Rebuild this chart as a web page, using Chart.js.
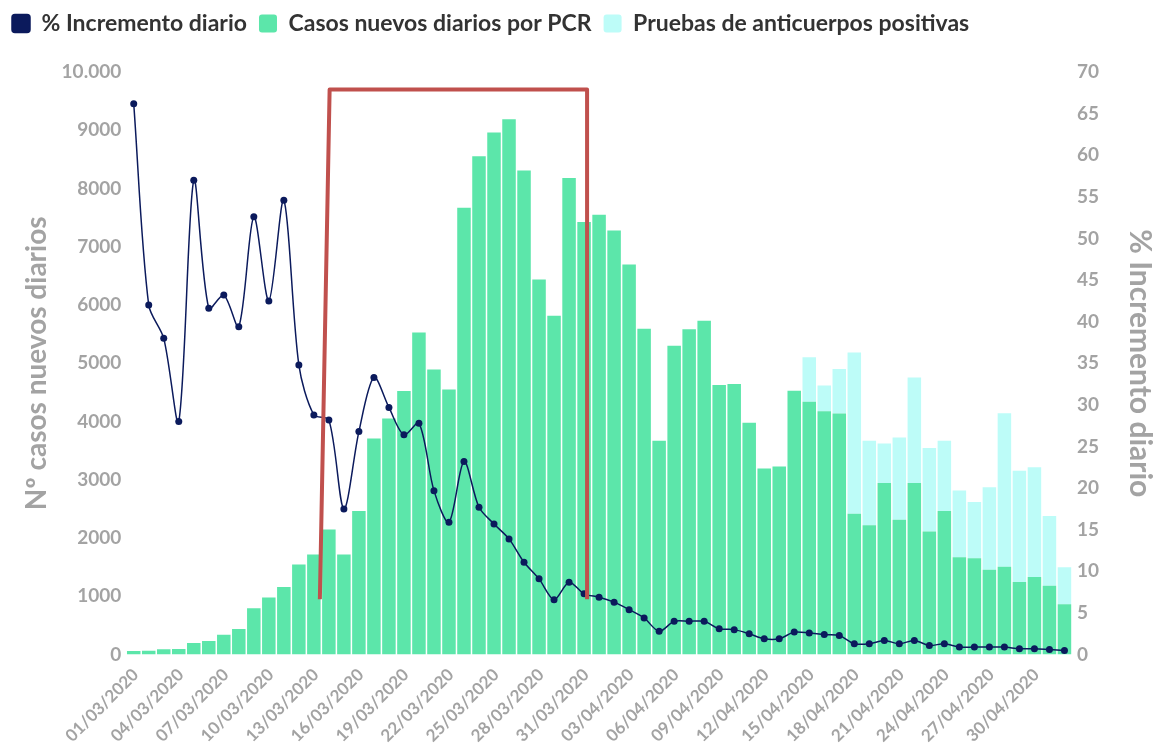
<!DOCTYPE html>
<html>
<head>
<meta charset="utf-8">
<script src="https://cdn.jsdelivr.net/npm/chart.js@4.4.1/dist/chart.umd.min.js"></script>
<style>
  html, body { margin: 0; padding: 0; background: #fff; }
  #wrap { width: 1159px; height: 754px; }
</style>
</head>
<body>
<div id="wrap"><canvas id="casosChart"></canvas></div>
<script>
const fechas = [
  "01/03/2020", "02/03/2020", "03/03/2020", "04/03/2020", "05/03/2020", "06/03/2020", "07/03/2020",
  "08/03/2020", "09/03/2020", "10/03/2020", "11/03/2020", "12/03/2020", "13/03/2020", "14/03/2020",
  "15/03/2020", "16/03/2020", "17/03/2020", "18/03/2020", "19/03/2020", "20/03/2020", "21/03/2020",
  "22/03/2020", "23/03/2020", "24/03/2020", "25/03/2020", "26/03/2020", "27/03/2020", "28/03/2020",
  "29/03/2020", "30/03/2020", "31/03/2020", "01/04/2020", "02/04/2020", "03/04/2020", "04/04/2020",
  "05/04/2020", "06/04/2020", "07/04/2020", "08/04/2020", "09/04/2020", "10/04/2020", "11/04/2020",
  "12/04/2020", "13/04/2020", "14/04/2020", "15/04/2020", "16/04/2020", "17/04/2020", "18/04/2020",
  "19/04/2020", "20/04/2020", "21/04/2020", "22/04/2020", "23/04/2020", "24/04/2020", "25/04/2020",
  "26/04/2020", "27/04/2020", "28/04/2020", "29/04/2020", "30/04/2020", "01/05/2020", "02/05/2020"
];

// Casos nuevos diarios por PCR
const casosPCR = [
  60, 65, 90, 95, 200, 235, 340, 440, 795, 980,
  1160, 1546, 1718, 2149, 1718, 2464, 3709, 4053, 4524, 5530,
  4895, 4552, 7669, 8554, 8961, 9190, 8308, 6439, 5814, 8182,
  7425, 7548, 7278, 6695, 5594, 3670, 5303, 5584, 5731, 4629,
  4645, 3980, 3194, 3228, 4530, 4340, 4175, 4140, 2418, 2218,
  2947, 2316, 2947, 2115, 2465, 1672, 1655, 1458, 1506, 1244,
  1330, 1181, 864
];

// Pruebas de anticuerpos positivas (apiladas sobre PCR)
const anticuerposPositivos = [
  0, 0, 0, 0, 0, 0, 0, 0, 0, 0,
  0, 0, 0, 0, 0, 0, 0, 0, 0, 0,
  0, 0, 0, 0, 0, 0, 0, 0, 0, 0,
  0, 0, 0, 0, 0, 0, 0, 0, 0, 0,
  0, 0, 0, 0, 0, 764, 442, 764, 2766, 1452,
  677, 1412, 1808, 1429, 1205, 1143, 965, 1414, 2635, 1913,
  1884, 1197, 636
];

// % Incremento diario
const incrementoDiario = [
  66.2, 42.0, 38.0, 28.0, 57.0, 41.6, 43.2, 39.4, 52.6, 42.5,
  54.6, 34.8, 28.8, 28.2, 17.5, 26.8, 33.3, 29.7, 26.4, 27.8,
  19.7, 15.9, 23.2, 17.7, 15.7, 13.9, 11.1, 9.1, 6.6, 8.7,
  7.3, 6.9, 6.3, 5.4, 4.4, 2.8, 4.0, 4.0, 4.0, 3.1,
  3.0, 2.5, 1.9, 1.9, 2.7, 2.6, 2.4, 2.3, 1.3, 1.3,
  1.7, 1.3, 1.7, 1.1, 1.3, 0.9, 0.9, 0.9, 0.9, 0.7,
  0.7, 0.6, 0.5
];

const GRIS = "#a3a3a3";

// Spanish style: only numbers of 5+ digits get a thousands dot
function formatCasos(v) {
  return v >= 10000 ? String(v).replace(/\B(?=(\d{3})+(?!\d))/g, ".") : String(v);
}

// red bracket marking 14/03 - 31/03 (x in category index, y in cases)
const marco = { xIzqAbajo: 12.4, xIzqArriba: 13.05, xDer: 30.2, yAbajo: 950, yArriba: 9700 };

const marcoPlugin = {
  id: "marco",
  afterDatasetsDraw(chart) {
    const { ctx, scales } = chart;
    const x = scales.x, y = scales.y;
    ctx.save();
    ctx.strokeStyle = "#c0504d";
    ctx.lineWidth = 4;
    ctx.lineJoin = "round";
    ctx.beginPath();
    ctx.moveTo(x.getPixelForValue(marco.xIzqAbajo), y.getPixelForValue(marco.yAbajo));
    ctx.lineTo(x.getPixelForValue(marco.xIzqArriba), y.getPixelForValue(marco.yArriba));
    ctx.lineTo(x.getPixelForValue(marco.xDer), y.getPixelForValue(marco.yArriba));
    ctx.lineTo(x.getPixelForValue(marco.xDer), y.getPixelForValue(marco.yAbajo));
    ctx.stroke();
    ctx.restore();
  },
};

// extra room under the legend
const legendGap = {
  id: "legendGap",
  beforeInit(chart) {
    const fitOrig = chart.legend.fit;
    chart.legend.fit = function () {
      fitOrig.bind(chart.legend)();
      this.height += 27;
    };
  },
};

Chart.defaults.font.family = "Lato, 'Open Sans', sans-serif";
Chart.defaults.font.weight = "bold";

new Chart(document.getElementById("casosChart"), {
  type: "bar",
  data: {
    labels: fechas,
    datasets: [
      {
        type: "line",
        label: "% Incremento diario",
        data: incrementoDiario,
        yAxisID: "y1",
        borderColor: "#0b1a5c",
        backgroundColor: "#0b1a5c",
        borderWidth: 1.5,
        pointRadius: 3.5,
        pointBackgroundColor: "#0b1a5c",
        pointBorderWidth: 0,
        tension: 0.3,
        order: 0,
      },
      {
        label: "Casos nuevos diarios por PCR",
        data: casosPCR,
        yAxisID: "y",
        backgroundColor: "#5ce6aa",
        categoryPercentage: 1,
        barPercentage: 0.9,
        order: 1,
      },
      {
        label: "Pruebas de anticuerpos positivas",
        data: anticuerposPositivos,
        yAxisID: "y",
        backgroundColor: "#bdfcf8",
        categoryPercentage: 1,
        barPercentage: 0.9,
        order: 2,
      },
    ],
  },
  options: {
    responsive: true,
    maintainAspectRatio: false,
    animation: false,
    layout: { padding: { top: 0, left: 0, right: 0, bottom: 6 } },
    plugins: {
      legend: {
        position: "top",
        align: "start",
        labels: {
          color: "#333",
          font: { size: 23, weight: "bold" },
          boxWidth: 18,
          boxHeight: 18,
          useBorderRadius: true,
          borderRadius: 3,
          padding: 12,
        },
      },
      tooltip: { enabled: false },
    },
    scales: {
      x: {
        stacked: true,
        grid: { display: false },
        border: { display: false },
        ticks: {
          color: GRIS,
          font: { size: 17, weight: "bold" },
          autoSkip: false,
          minRotation: 45,
          maxRotation: 45,
          padding: 2,
          labelOffset: 2,
          callback: function (val, i) {
            return i % 3 === 0 ? fechas[i] : "";
          },
        },
      },
      y: {
        stacked: true,
        position: "left",
        min: 0,
        max: 10000,
        grid: { display: false, drawTicks: false },
        border: { display: false },
        ticks: {
          stepSize: 1000,
          color: GRIS,
          font: { size: 19, weight: "bold" },
          padding: 5,
          callback: (v) => formatCasos(v),
        },
        title: {
          display: true,
          text: "Nº casos nuevos diarios",
          color: GRIS,
          font: { size: 28, weight: "bold" },
          padding: { top: 20, bottom: 3 },
        },
      },
      y1: {
        position: "right",
        min: 0,
        max: 70,
        grid: { display: false, drawTicks: false },
        border: { display: false },
        ticks: {
          stepSize: 5,
          color: GRIS,
          font: { size: 19, weight: "bold" },
          padding: 5,
        },
        title: {
          display: true,
          text: "% Incremento diario",
          color: GRIS,
          font: { size: 30, weight: "bold" },
          padding: { top: 1, bottom: 18 },
        },
      },
    },
  },
  plugins: [marcoPlugin, legendGap],
});
</script>
</body>
</html>
